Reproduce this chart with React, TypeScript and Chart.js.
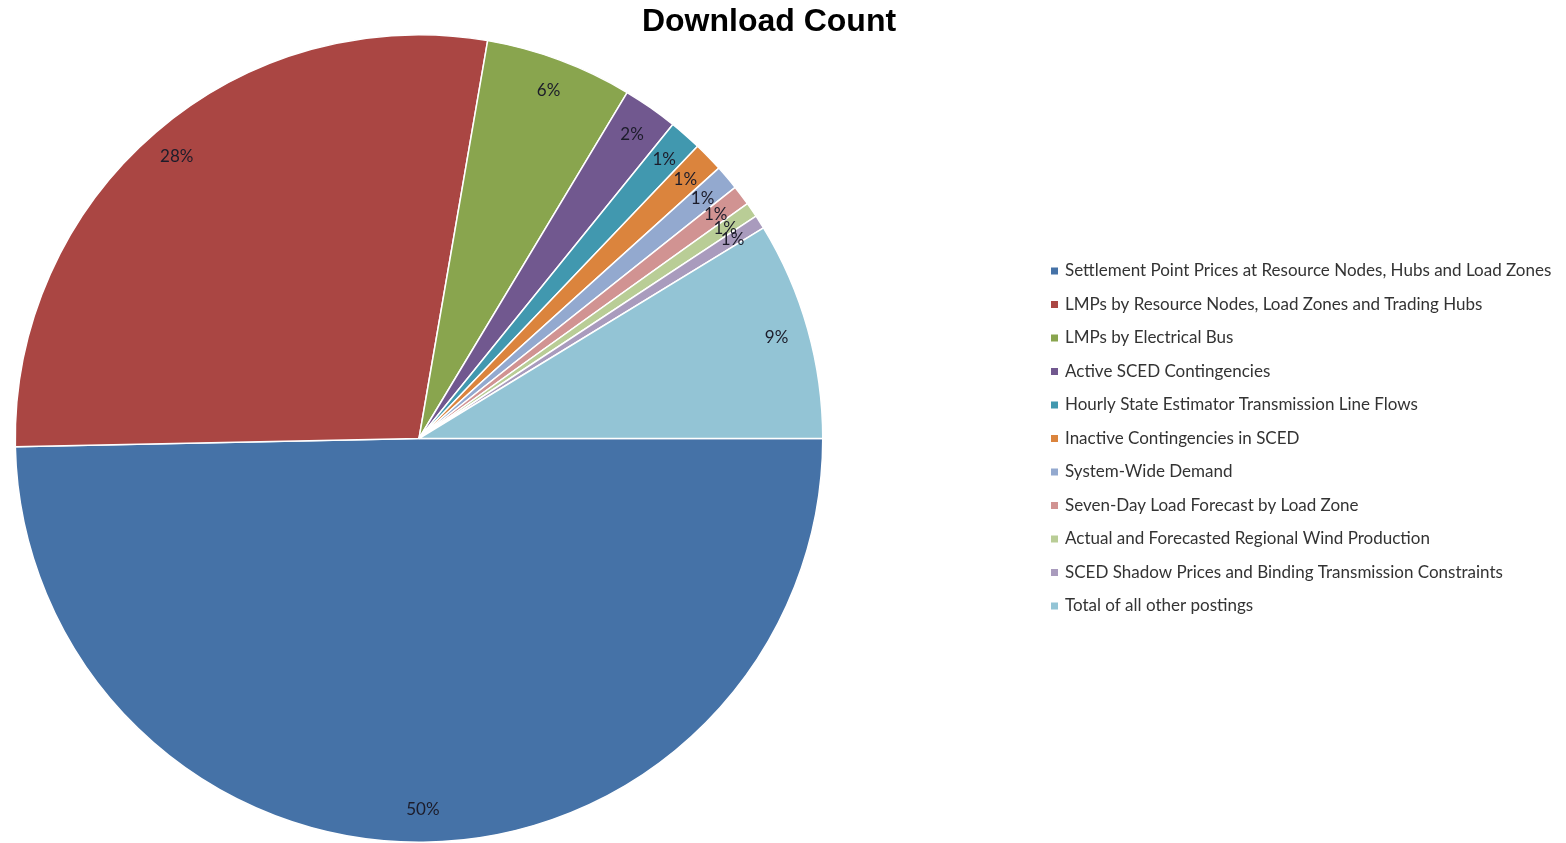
import React, { useEffect, useRef } from "react";
import { Chart, registerables } from "chart.js";

Chart.register(...registerables);

const titleText = "Download Count";

const categories: string[] = [
  "Settlement Point Prices at Resource Nodes, Hubs and Load Zones",
  "LMPs by Resource Nodes, Load Zones and Trading Hubs",
  "LMPs by Electrical Bus",
  "Active SCED Contingencies",
  "Hourly State Estimator Transmission Line Flows",
  "Inactive Contingencies in SCED",
  "System-Wide Demand",
  "Seven-Day Load Forecast by Load Zone",
  "Actual and Forecasted Regional Wind Production",
  "SCED Shadow Prices and Binding Transmission Constraints",
  "Total of all other postings",
];

const shares: number[] = [49.67, 28.05, 5.9, 2.2, 1.3, 1.2, 1.0, 0.8, 0.6, 0.55, 8.73];

const colors: string[] = [
  "#4572A7",
  "#AA4643",
  "#89A54E",
  "#71588F",
  "#4198AF",
  "#DB843D",
  "#93A9CF",
  "#D19392",
  "#B9CD96",
  "#A99BBD",
  "#93C4D5",
];

const W = 1566;
const H = 843;

const labelPlugin = {
  id: "sliceLabels",
  afterDatasetsDraw(chart: any) {
    const ctx = chart.ctx;
    const meta = chart.getDatasetMeta(0);
    const data = chart.data.datasets[0].data as number[];
    const total = data.reduce((a, b) => a + b, 0);
    ctx.save();
    ctx.font = "17px Lato";
    ctx.fillStyle = "#1c1c2a";
    ctx.textAlign = "center";
    ctx.textBaseline = "middle";
    meta.data.forEach((arc: any, i: number) => {
      const p = arc.getProps(["x", "y", "startAngle", "endAngle", "outerRadius"], true);
      const mid = (p.startAngle + p.endAngle) / 2;
      const r = p.outerRadius * 0.92;
      const x = p.x + Math.cos(mid) * r;
      const y = p.y + Math.sin(mid) * r;
      const pct = Math.round((data[i] / total) * 100);
      ctx.fillText(pct + "%", x, y);
    });
    ctx.restore();
  },
};

const decorPlugin = {
  id: "decor",
  afterDraw(chart: any) {
    const ctx = chart.ctx;
    ctx.save();
    // title
    ctx.font = "bold 32px 'Liberation Sans', Arial, sans-serif";
    ctx.fillStyle = "#000";
    ctx.textAlign = "center";
    ctx.textBaseline = "middle";
    ctx.fillText(titleText, 769, 22);
    // legend
    const labels = chart.data.labels as string[];
    const bg = chart.data.datasets[0].backgroundColor as string[];
    ctx.font = "17px Lato";
    ctx.textAlign = "left";
    labels.forEach((lab, i) => {
      const y = 271 + i * 33.5;
      ctx.fillStyle = bg[i];
      ctx.fillRect(1051, y - 3.5, 7, 7);
      ctx.fillStyle = "#333";
      ctx.fillText(lab, 1065, y);
    });
    ctx.restore();
  },
};

export default function App() {
  const ref = useRef<HTMLCanvasElement | null>(null);
  useEffect(() => {
    document.body.style.margin = "0";
    if (!ref.current) return;
    const chart = new Chart(ref.current, {
      type: "pie",
      data: {
        labels: categories,
        datasets: [
          {
            data: shares,
            backgroundColor: colors,
            borderColor: "#ffffff",
            borderWidth: 1.5,
          },
        ],
      },
      options: {
        animation: false,
        responsive: false,
        rotation: 90,
        layout: { padding: { left: 14, top: 34, right: W - 824, bottom: 0 } },
        plugins: {
          legend: { display: false },
          title: { display: false },
          tooltip: { enabled: false },
        },
      },
      plugins: [labelPlugin, decorPlugin],
    });
    return () => chart.destroy();
  }, []);
  return (
    <div style={{ position: "absolute", left: 0, top: 0, width: W, height: H, background: "#fff" }}>
      <canvas ref={ref} width={W} height={H} style={{ display: "block", width: W, height: H }} />
    </div>
  );
}
